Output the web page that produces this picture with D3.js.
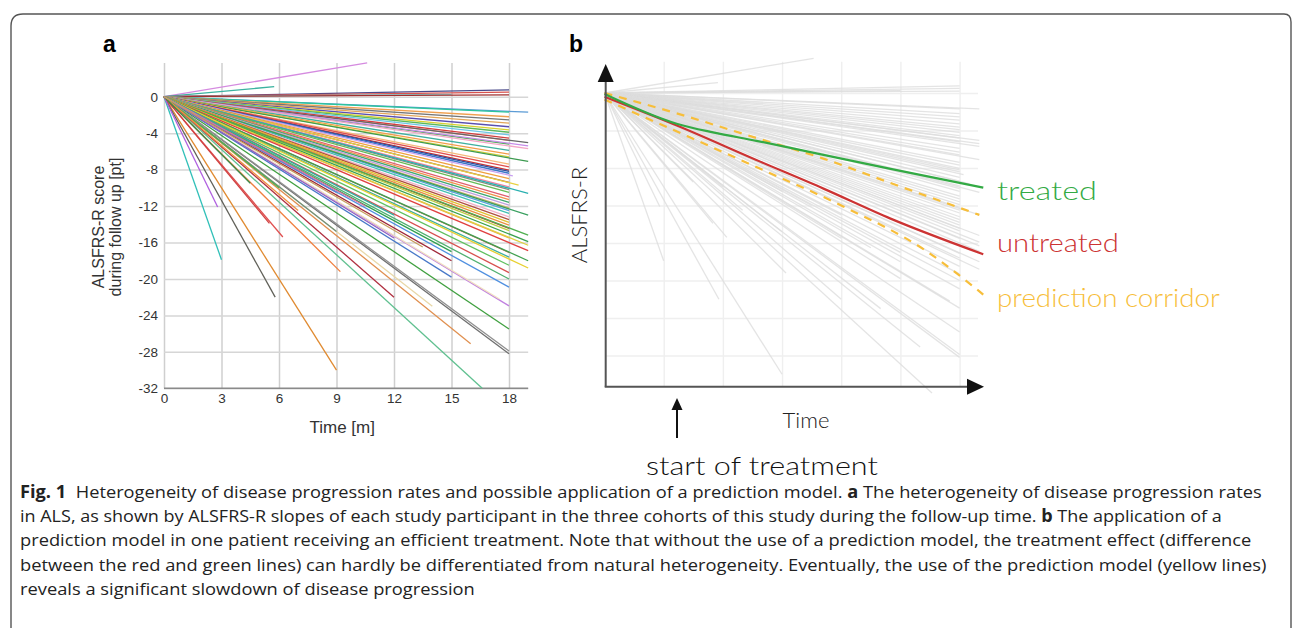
<!DOCTYPE html>
<html><head><meta charset="utf-8">
<script src="https://cdn.jsdelivr.net/npm/d3@7"></script>
<style>
body{margin:0;background:#fff;}
svg{display:block;}
</style></head>
<body>
<svg id="fig" width="1293" height="628"></svg>
<script>
// ---------- DATA ----------
const monthTicks = [0, 3, 6, 9, 12, 15, 18];
const scoreTicks = [0, -4, -8, -12, -16, -20, -24, -28, -32];
// per-participant ALSFRS-R slope lines: end time (months) and end score change (pt), all start at (0,0)
const endTime = [10.6, 5.75, 18, 18, 15, 18, 19, 18, 18, 18, 18, 18, 18, 18, 18, 18, 18, 19, 18, 19,
  19, 18, 18, 18, 19, 18, 18, 18, 18, 18, 18.2, 18, 18, 18.5, 18, 18, 19, 18, 18, 18,
  18, 18, 18, 18, 18, 19, 18, 18, 18, 18, 18, 18, 19, 18, 19, 19, 19, 18, 18, 19,
  18, 19, 18, 18, 18, 18, 18, 18, 18, 16, 16.6, 12, 14, 17.5, 15, 15, 9.2, 9, 5.8, 6.2,
  3, 2.8, 5.5, 9, 12, 15, 6, 9, 12, 7, 4.5, 10.5, 13.5];
const endScore = [3.7, 1.1, 0.75, 0.5, 0.25, 0.2, -1.7, -1.7, -2.2, -2.55, -2.9, -3.3, -3.65, -3.9, -4.2, -4.55, -4.8, -5.05, -5.2, -5.4,
  -5.7, -5.9, -6.3, -6.6, -7.1, -7.4, -7.7, -8.05, -8.2, -8.4, -8.7, -9.0, -9.4, -9.7, -9.9, -10.2, -10.6, -10.5, -11.0, -11.3,
  -11.6, -11.9, -12.2, -12.5, -12.8, -13.0, -13.2, -13.5, -13.8, -14.1, -14.45, -14.7, -15.2, -15.5, -15.9, -16.3, -16.9, -17.1, -17.6, -18.0,
  -18.5, -18.8, -19.3, -20.0, -20.9, -22.95, -25.5, -28.2, -27.9, -27.1, -32, -22, -23, -22.2, -18, -19.8, -19.2, -30, -22, -15.4,
  -17.9, -12.1, -13.9, -14.8, -15.5, -17.0, -10, -10.5, -13.0, -12.5, -9.5, -12.0, -16.5];
// panel b: illustrative trajectories [month, score]
const treatedPts = [[0, -0.1], [3.7, -3.3], [5.5, -4.2], [7.7, -5.1], [11.1, -6.6], [14.5, -8.1], [19.2, -10.1]];
const untreatedPts = [[0, -0.4], [3.7, -3.5], [7.7, -7.15], [11.1, -10.2], [14.5, -13.4], [19.2, -17.2]];
const corridorUpper = [[0, 0], [3.7, -2.2], [7.7, -4.8], [11.1, -7.0], [14.5, -9.6], [19.0, -13.0]];
const corridorLower = [[0, -0.7], [4.3, -4.7], [7.7, -7.9], [12.1, -12.1], [16.2, -16.7], [19.2, -21.5]];
const legendLabels = ["treated", "untreated", "prediction corridor"];

// ---------- STYLE ----------
const lineColors = ["#d58be0", "#3bb3a0", "#4a4a8a", "#d9534f", "#7fd6d6", "#a03030", "#5b9bd5", "#2cc59b", "#f0a050", "#777777",
  "#e2a65a", "#5a4fb0", "#d8d030", "#5cb85c", "#6ec6e6", "#d43f3f", "#f07c6c", "#666666", "#4caf50", "#c58be8",
  "#f4a6c8", "#40b0a0", "#f39c4a", "#d4d040", "#3d9a50", "#f5b87a", "#e05050", "#c83232", "#2f4f9f", "#3a78c8",
  "#c9a0f0", "#f0a040", "#b0604a", "#e8d040", "#f080a0", "#8a8a7a", "#2ab0b0", "#66bb55", "#e06070", "#f0904a",
  "#40a870", "#c0a0e0", "#d8b070", "#5aa0e0", "#40c0b0", "#3aa060", "#f0b0c8", "#b05040", "#e0c030", "#e89040",
  "#d03030", "#b8d040", "#50b050", "#f0a050", "#3aa050", "#e0d040", "#e04040", "#c06048", "#40b0a0", "#40a050",
  "#60c060", "#e8d030", "#d85050", "#50b070", "#5090e0", "#c080e0", "#40a040", "#707070", "#909090", "#e09050",
  "#60c090", "#b03040", "#e8d8a8", "#f0e0c0", "#a02838", "#4878c8", "#f08040", "#e08a30", "#606058", "#e05050",
  "#30c0b8", "#b060e0", "#d04040", "#70907a", "#9060c0", "#30a050", "#50b050", "#6080d0", "#30b0a0", "#f09040",
  "#3a8a4a", "#e070a0", "#c8a060"];

const svg = d3.select("#fig");

// border
svg.append("path")
  .attr("d", "M11,640 L11,26 Q11,14 23,14 L1284,14 Q1291,14 1291,22 L1291,640")
  .attr("fill", "none").attr("stroke", "#555").attr("stroke-width", 1.4);

const lines = endTime.map((t, i) => ({t, v: endScore[i], c: lineColors[i % lineColors.length]}));

// helper: stretch a text horizontally to a target width
function fitWidth(sel, target, x, y, anchor) {
  const w = sel.node().getComputedTextLength();
  const sx = target / w;
  const x0 = anchor === "middle" ? x - target / 2 : x;
  sel.attr("text-anchor", "start").attr("x", 0).attr("y", 0)
    .attr("transform", `translate(${x0},${y}) scale(${sx},1)`);
}

// ================= PANEL A =================
const xA = d3.scaleLinear().domain([0, 18]).range([164, 509]);
const yA = d3.scaleLinear().domain([0, -32]).range([96.7, 388.3]);
const gA = svg.append("g");

const xAxisA = gA.append("g").attr("transform", `translate(0,${yA(-32)})`)
  .call(d3.axisBottom(xA).tickValues(monthTicks).tickFormat(d3.format("d"))
    .tickSize(-(yA(-32) - yA(3.7))).tickPadding(5));
xAxisA.select(".domain").remove();
xAxisA.selectAll("line").attr("stroke", "#cfcfcf").attr("stroke-width", 1.5);
xAxisA.selectAll("text").attr("font-family", "Liberation Sans, Arial, sans-serif").attr("font-size", 13.5).attr("fill", "#333");

const yAxisA = gA.append("g").attr("transform", `translate(${xA(0)},0)`)
  .call(d3.axisLeft(yA).tickValues(scoreTicks).tickFormat(d3.format("d"))
    .tickSize(-(xA(19) - xA(0))).tickPadding(6));
yAxisA.select(".domain").remove();
yAxisA.selectAll("line").attr("stroke", "#d6d6d6").attr("stroke-width", 1.5);
yAxisA.selectAll("text").attr("font-family", "Liberation Sans, Arial, sans-serif").attr("font-size", 13.5).attr("fill", "#333")
  .text(d => d === 0 ? "0" : "-" + Math.abs(d));
gA.append("line").attr("x1", xA(0)).attr("x2", xA(19)).attr("y1", yA(-32)).attr("y2", yA(-32))
  .attr("stroke", "#8a8a8a").attr("stroke-width", 1.6);

gA.append("g").selectAll("line").data(lines).join("line")
  .attr("x1", xA(0)).attr("y1", yA(0))
  .attr("x2", d => xA(d.t)).attr("y2", d => yA(d.v))
  .attr("stroke", d => d.c).attr("stroke-width", 1.3);

gA.append("text").attr("x", xA(9.3)).attr("y", 433).attr("text-anchor", "middle")
  .attr("font-family", "Liberation Sans, Arial, sans-serif").attr("font-size", 17).attr("fill", "#333").text("Time [m]");
const yt = gA.append("text").attr("transform", "translate(104,227) rotate(-90)").attr("text-anchor", "middle")
  .attr("font-family", "Liberation Sans, Arial, sans-serif").attr("font-size", 16).attr("fill", "#333");
yt.append("tspan").attr("x", 0).attr("y", 0).text("ALSFRS-R score");
yt.append("tspan").attr("x", 0).attr("y", 17).text("during follow up [pt]");
svg.append("text").attr("x", 103).attr("y", 52).attr("font-family", "Liberation Sans, Arial, sans-serif")
  .attr("font-weight", "bold").attr("font-size", 23).text("a");

// ================= PANEL B =================
const xB = d3.scaleLinear().domain([0, 18]).range([604.5, 959.6]);
const yB = d3.scaleLinear().domain([0, -32]).range([93, 393]);
const gB = svg.append("g");
const axX = 605.7, axY = 386.7;

const xAxisB = gB.append("g").attr("transform", `translate(0,${axY})`)
  .call(d3.axisBottom(xB).tickValues(monthTicks.slice(1)).tickSize(-(axY - 61.7)).tickFormat(""));
xAxisB.select(".domain").remove();
xAxisB.selectAll("line").attr("stroke", "#efefef").attr("stroke-width", 1.4);
const yAxisB = gB.append("g").attr("transform", `translate(${axX},0)`)
  .call(d3.axisLeft(yB).tickValues(scoreTicks.slice(0, 8)).tickSize(-(978 - axX)).tickFormat(""));
yAxisB.select(".domain").remove();
yAxisB.selectAll("line").attr("stroke", "#efefef").attr("stroke-width", 1.4);

gB.append("g").selectAll("line").data(lines).join("line")
  .attr("x1", xB(0)).attr("y1", yB(0))
  .attr("x2", d => xB(d.t)).attr("y2", d => yB(d.v))
  .attr("stroke", "#dddddd").attr("stroke-width", 1.3).attr("stroke-opacity", 0.8);

const lineB = d3.line().x(d => xB(d[0])).y(d => yB(d[1])).curve(d3.curveMonotoneX);
gB.append("path").datum(corridorUpper).attr("d", lineB).attr("fill", "none")
  .attr("stroke", "#f7be3a").attr("stroke-width", 2.2).attr("stroke-dasharray", "8,7");
gB.append("path").datum(corridorLower).attr("d", lineB).attr("fill", "none")
  .attr("stroke", "#f7be3a").attr("stroke-width", 2.2).attr("stroke-dasharray", "8,7");
gB.append("path").datum(untreatedPts).attr("d", lineB).attr("fill", "none")
  .attr("stroke", "#cc3333").attr("stroke-width", 2.2);
gB.append("path").datum(treatedPts).attr("d", lineB).attr("fill", "none")
  .attr("stroke", "#33aa44").attr("stroke-width", 2.2);

gB.append("line").attr("x1", axX).attr("x2", axX).attr("y1", axY).attr("y2", 75).attr("stroke", "#555").attr("stroke-width", 2);
gB.append("line").attr("x1", axX - 1).attr("x2", 972).attr("y1", axY).attr("y2", axY).attr("stroke", "#555").attr("stroke-width", 2);
gB.append("path").attr("d", `M${axX},64 L${axX - 8},82 L${axX + 8},82 Z`).attr("fill", "#111");
gB.append("path").attr("d", `M984,${axY} L967,${axY - 8} L967,${axY + 8} Z`).attr("fill", "#111");

const lblFont = "Lato, 'Noto Sans', sans-serif";
const legendColors = ["#33aa44", "#cc3333", "#f7be3a"];
const legendY = [yB(-10.4), yB(-16.0), yB(-21.9)];
const legendW = [100, 122, 223];
legendLabels.forEach((s, i) => {
  const t = gB.append("text").attr("dy", "0.35em")
    .attr("font-family", lblFont).attr("font-weight", 300).attr("font-size", 26).attr("fill", legendColors[i]).text(s);
  fitWidth(t, legendW[i], 997, legendY[i], "start");
});
gB.append("text").attr("transform", "translate(587,215) rotate(-90)").attr("text-anchor", "middle")
  .attr("font-family", lblFont).attr("font-weight", 300).attr("font-size", 22).attr("fill", "#222").text("ALSFRS-R");
gB.append("text").attr("x", 806).attr("y", 428).attr("text-anchor", "middle")
  .attr("font-family", lblFont).attr("font-weight", 300).attr("font-size", 22).attr("fill", "#222").text("Time");
gB.append("line").attr("x1", 677).attr("x2", 677).attr("y1", 438).attr("y2", 408).attr("stroke", "#111").attr("stroke-width", 2);
gB.append("path").attr("d", "M677,398 L671.5,410 L682.5,410 Z").attr("fill", "#111");
const sot = gB.append("text")
  .attr("font-family", lblFont).attr("font-weight", 300).attr("font-size", 26).attr("fill", "#111").text("start of treatment");
fitWidth(sot, 232, 762, 475, "middle");
svg.append("text").attr("x", 569).attr("y", 52).attr("font-family", "Liberation Sans, Arial, sans-serif")
  .attr("font-weight", "bold").attr("font-size", 23).text("b");

// ================= CAPTION =================
const capFont = "'Open Sans', 'Noto Sans', sans-serif";
const caption = [
  [["Fig. 1", true], ["  Heterogeneity of disease progression rates and possible application of a prediction model. ", false], ["a", true], [" The heterogeneity of disease progression rates", false]],
  [["in ALS, as shown by ALSFRS-R slopes of each study participant in the three cohorts of this study during the follow-up time. ", false], ["b", true], [" The application of a", false]],
  [["prediction model in one patient receiving an efficient treatment. Note that without the use of a prediction model, the treatment effect (difference", false]],
  [["between the red and green lines) can hardly be differentiated from natural heterogeneity. Eventually, the use of the prediction model (yellow lines)", false]],
  [["reveals a significant slowdown of disease progression", false]]
];
const capWidths = [1242, 1202, 1232, 1247, null];
let lastSx = 1;
caption.forEach((parts, i) => {
  const t = svg.append("text").attr("x", 0).attr("y", 0)
    .attr("font-family", capFont).attr("font-size", 17).attr("fill", "#222").attr("xml:space", "preserve");
  parts.forEach(([s, b]) => t.append("tspan").attr("font-weight", b ? "bold" : "normal").text(s));
  const w = t.node().getComputedTextLength();
  const sx = capWidths[i] ? capWidths[i] / w : lastSx;
  lastSx = sx;
  t.attr("transform", `translate(20,${498 + i * 24.2}) scale(${sx},1)`);
});
</script>
</body></html>
